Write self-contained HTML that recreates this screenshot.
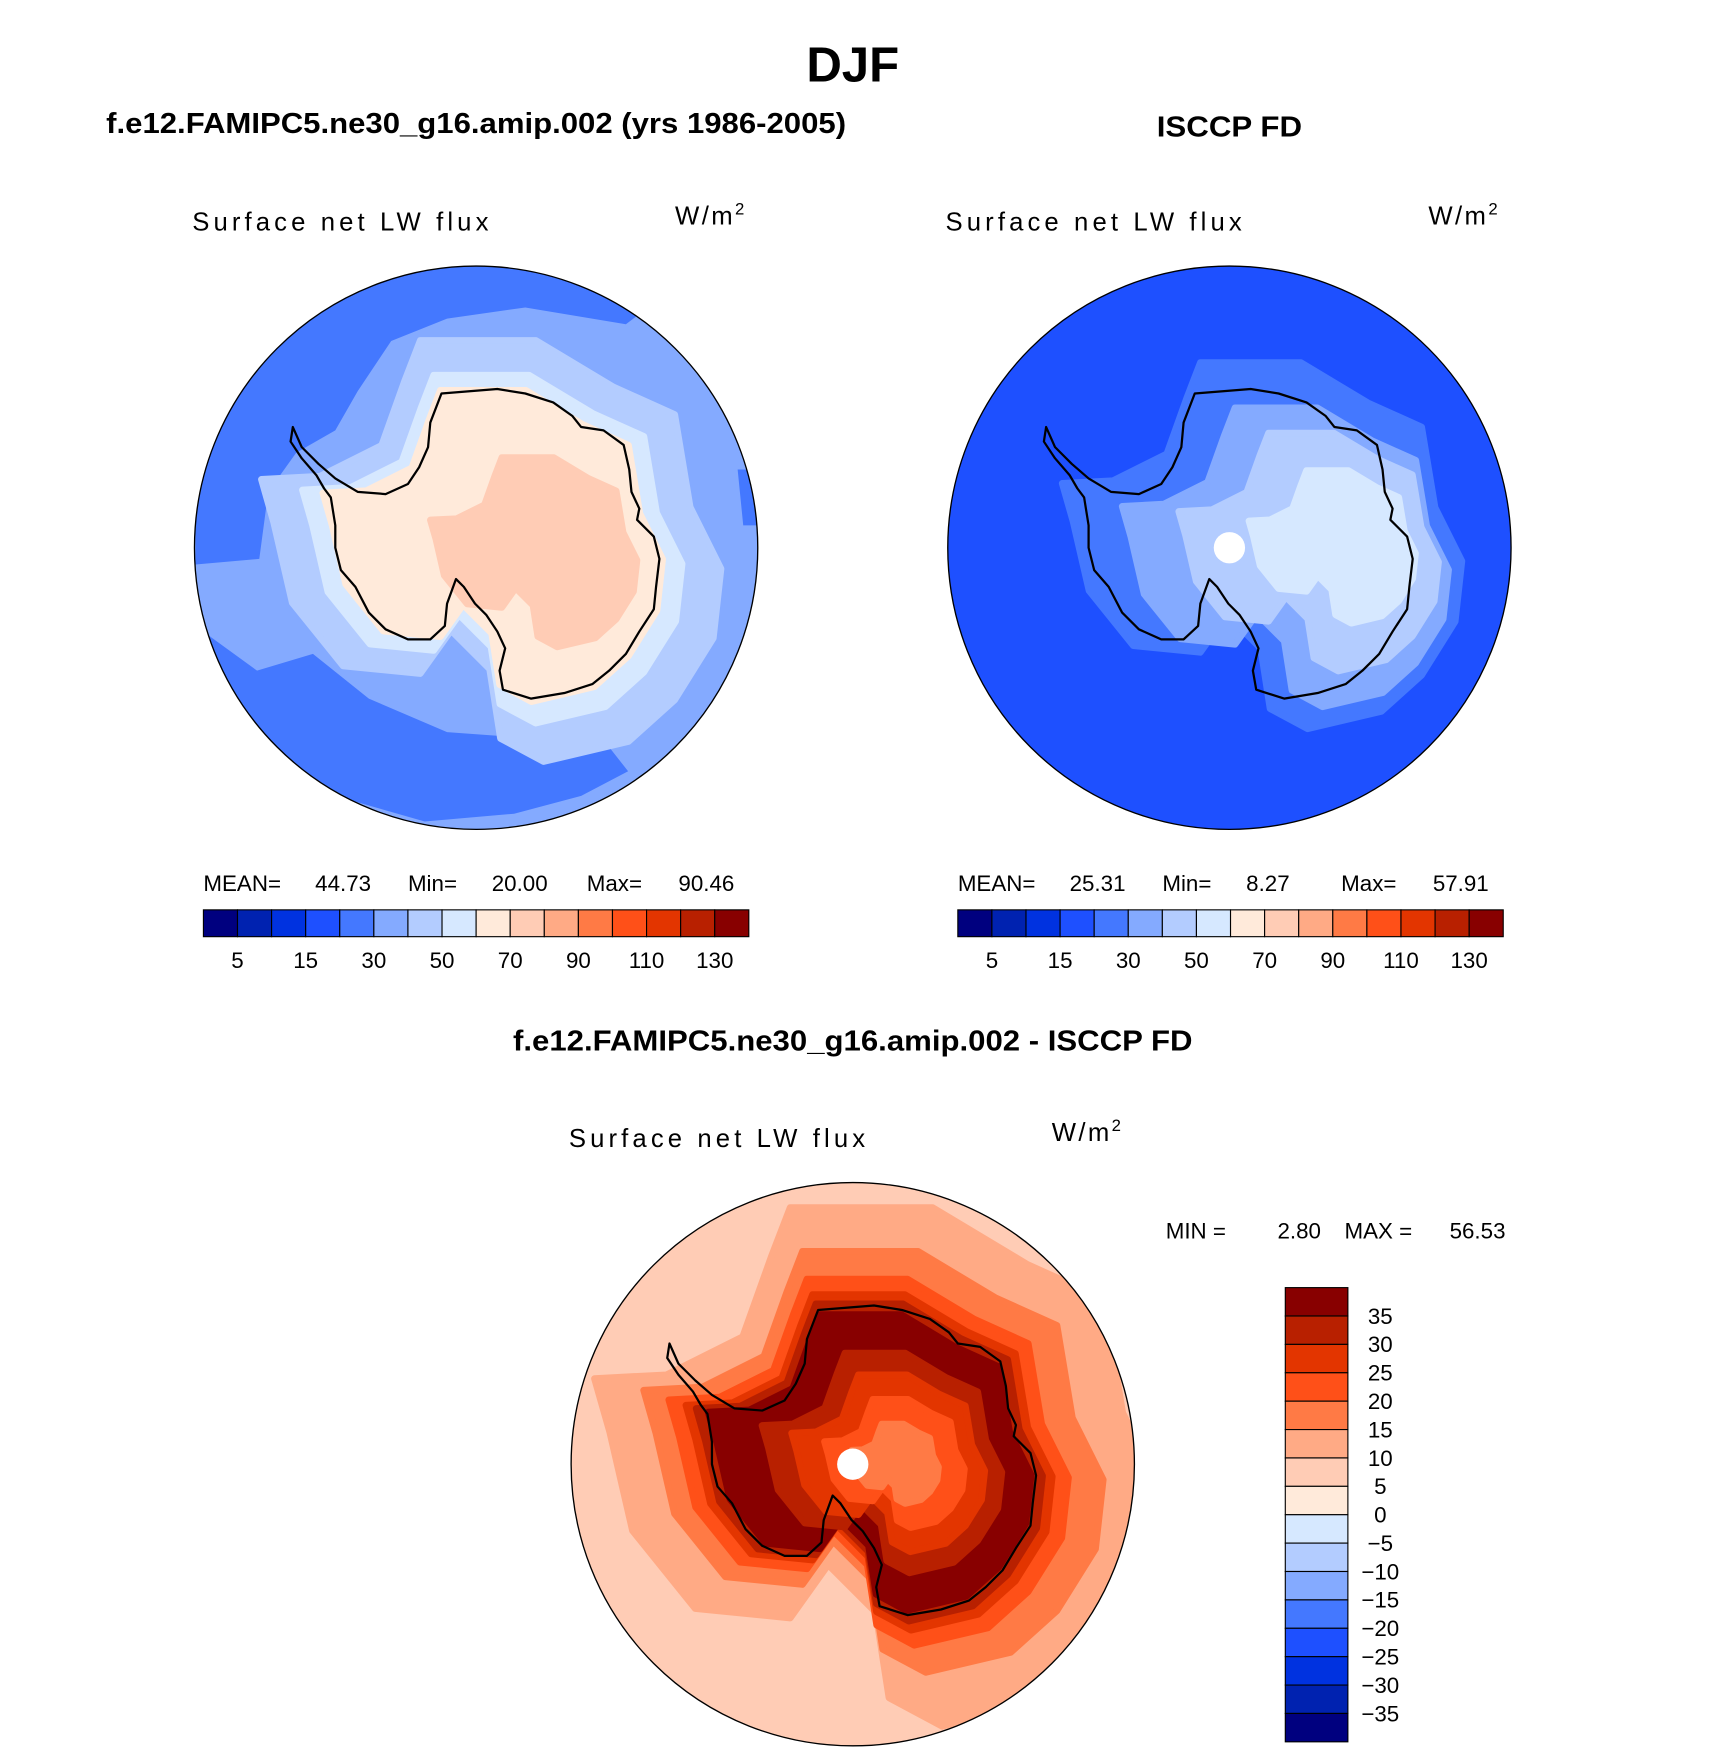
<!DOCTYPE html>
<html><head><meta charset="utf-8"><style>
html,body{margin:0;padding:0;background:#fff;overflow:hidden;width:1710px;height:1756px}
svg{display:block}
text{font-family:"Liberation Sans",sans-serif;fill:#000}
</style></head><body>
<svg id="fig" width="1710" height="1756" viewBox="0 0 1530 1571" xmlns="http://www.w3.org/2000/svg">
<text x="763" y="73" font-size="44" font-weight="bold" text-anchor="middle">DJF</text>
<text x="95" y="119" font-size="26" font-weight="bold" textLength="662" lengthAdjust="spacingAndGlyphs">f.e12.FAMIPC5.ne30_g16.amip.002 (yrs 1986-2005)</text>
<text x="1100" y="122" font-size="26" font-weight="bold" text-anchor="middle" textLength="130" lengthAdjust="spacingAndGlyphs">ISCCP FD</text>
<text x="763" y="940" font-size="26" font-weight="bold" text-anchor="middle" textLength="608" lengthAdjust="spacingAndGlyphs">f.e12.FAMIPC5.ne30_g16.amip.002 - ISCCP FD</text>
<g id="maps"></g>
</svg>
<script>
const colors=["#00007F","#0022B0","#0032E0","#1E50FF","#4478FF","#84AAFF","#B3CCFF","#D6E8FF","#FFEADA","#FFCCB5","#FFAA85","#FF7A45","#FF5018","#E33500","#B82000","#880000"];
const cbLabels=["5","15","30","50","70","90","110","130"];
const diffLabels=["35","30","25","20","15","10","5","0","\u22125","\u221210","\u221215","\u221220","\u221225","\u221230","\u221235"];
const statsModel=["44.73","20.00","90.46"];
const statsObs=["25.31","8.27","57.91"];
const statsDiff=["2.80","56.53"];
const coast=[[395,352],[420,350],[445,348],[470,352],[495,360],[512,372],[520,382],[540,385],[558,398],[563,420],[565,440],[572,455],[570,465],[585,480],[590,500],[587,525],[585,545],[572,565],[560,585],[545,600],[530,612],[505,620],[475,625],[450,617],[447,600],[452,580],[445,565],[435,550],[425,540],[415,525],[408,518],[400,540],[398,560],[385,572],[365,572],[345,563],[330,548],[318,525],[305,510],[300,490],[300,470],[296,445],[290,437],[283,425],[270,410],[260,395],[262,382],[270,400],[285,415],[300,428],[320,440],[345,442],[365,433],[375,418],[383,400],[385,378]];
const hull=[[395,352],[470,352],[520,382],[560,400],[570,460],[590,500],[585,545],[560,585],[530,612],[475,625],[447,610],[440,565],[415,540],[395,568],[345,563],[312,522],[300,470],[292,442],[330,440],[370,420],[385,378]];
const NS="http://www.w3.org/2000/svg";
const root=document.getElementById('maps');
function el(tag,attrs,parent){const e=document.createElementNS(NS,tag);for(const k in attrs)e.setAttribute(k,attrs[k]);(parent||root).appendChild(e);return e;}
function pts(arr,dx,dy,s,sx,sy){const cx=445,cy=490;return arr.map(p=>[(cx+s*(p[0]-cx)+dx+sx).toFixed(1),(cy+s*(p[1]-cy)+dy+sy).toFixed(1)].join(',')).join(' ');}
function rawPts(arr,dx,dy){return arr.map(p=>(p[0]+dx)+','+(p[1]+dy)).join(' ');}
function makeMap(id,dx,dy,bg,layers,blobs,dot){
  const cx=426+dx,cy=490+dy,r=252;
  const cp=el('clipPath',{id:'clip'+id});el('circle',{cx:cx,cy:cy,r:r},cp);
  const g=el('g',{'clip-path':'url(#clip'+id+')'});
  
  
  el('circle',{cx:cx,cy:cy,r:r,fill:colors[bg]},g);
  blobs.forEach(b=>{const p=el('polygon',{points:rawPts(b[1],dx,dy),fill:colors[b[0]],'stroke-linejoin':'round'},g);
    });
  layers.forEach(l=>{const p=el('polygon',{points:pts(hull,dx,dy,l[1],l[2],l[3]),fill:colors[l[0]],stroke:colors[l[0]],'stroke-width':6,'stroke-linejoin':'round'},g);
    });
  if(dot){const d=el('circle',{cx:cx,cy:cy,r:14,fill:'#fff'},g);}
  const c=el('polygon',{points:pts(coast,dx,dy,1,0,0),fill:'none',stroke:'#000','stroke-width':2,'stroke-linejoin':'round'},g);
  
  const o=el('circle',{cx:cx,cy:cy,r:r,fill:'none',stroke:'#000','stroke-width':1.2});
  
  const t=el('text',{x:172+dx,y:206+dy,'font-size':23,textLength:265,lengthAdjust:'spacing'});t.textContent='Surface net LW flux';
  
  const u=el('text',{x:604+dx,y:201+dy,'font-size':23,textLength:62,lengthAdjust:'spacing'});u.innerHTML='W/m<tspan font-size="15" dy="-9">2</tspan>';
  
}
// model map
makeMap('model',0,0,5,[[6,1.38,0,5],[7,1.14,0,3],[8,1.02,0,0],[9,0.62,35,5]],
 [[4,[[175,420],[200,330],[250,280],[330,245],[400,235],[470,235],[580,275],[560,290],[470,275],[400,285],[350,305],[320,350],[300,385],[265,405],[240,440],[232,500],[175,505]]],
  [4,[[175,560],[230,600],[280,585],[330,625],[400,655],[470,660],[540,662],[562,690],[520,712],[460,728],[380,735],[300,712],[220,680],[180,625]]],
  [4,[[660,420],[680,420],[680,470],[665,470]]]],false);
// obs map
makeMap('obs',674,0,3,[[4,1.2,15,0],[5,0.98,35,10],[6,0.78,55,5],[7,0.5,75,0]],
 [[2,[[850,330],[905,290],[960,258],[1010,250],[1000,300],[990,330],[960,320],[930,345],[920,420],[940,440],[900,460],[860,440]]],
  [2,[[930,590],[990,600],[1005,665],[970,672],[935,640]]],
  [2,[[900,700],[1000,690],[1150,720],[1200,760],[950,760]]]],true);
// diff map
makeMap('diff',337,820,9,[[10,1.7,10,5],[11,1.38,5,0],[12,1.2,0,0],[13,1.1,0,0],[14,1.04,0,0],[15,0.97,0,0],[14,0.72,10,0],[13,0.58,15,0],[12,0.42,20,0],[11,0.26,20,0]],
 [[8,[[510,1170],[560,1150],[610,1160],[600,1200],[560,1230],[520,1240]]]],true);
// horizontal colorbars
function hbar(id,x0,stats){
  const y0=814,w=30.5,h=24;
  colors.forEach((c,i)=>{const r=el('rect',{x:x0+i*w,y:y0,width:w,height:h,fill:c,stroke:'#000','stroke-width':1});
    });
  cbLabels.forEach((l,i)=>{const t=el('text',{x:x0+(2*i+1)*w,y:866,'font-size':20,'text-anchor':'middle'});t.textContent=l;
    });
  const g=el('g',{});
  
  const items=[['MEAN=',0],[stats[0],100],['Min=',183],[stats[1],258],['Max=',343],[stats[2],425]];
  items.forEach(it=>{const t=el('text',{x:x0+it[1],y:797,'font-size':20},g);t.textContent=it[0];});
}
hbar('model',182,statsModel);
hbar('obs',857,statsObs);
// vertical colorbar
(function(){
  const x0=1150,y0=1152,w=56,h=25.4;
  for(let i=0;i<16;i++){const r=el('rect',{x:x0,y:y0+i*h,width:w,height:h,fill:colors[15-i],stroke:'#000','stroke-width':1});
    }
  diffLabels.forEach((l,i)=>{const t=el('text',{x:1235,y:y0+(i+1)*h+7,'font-size':20,'text-anchor':'middle'});t.textContent=l;
    });
  const g=el('g',{});
  
  [['MIN  =',1043],[statsDiff[0],1143],['MAX  =',1203],[statsDiff[1],1297]].forEach(it=>{const t=el('text',{x:it[1],y:1108,'font-size':20},g);t.textContent=it[0];});
})();
</script>
</body></html>
